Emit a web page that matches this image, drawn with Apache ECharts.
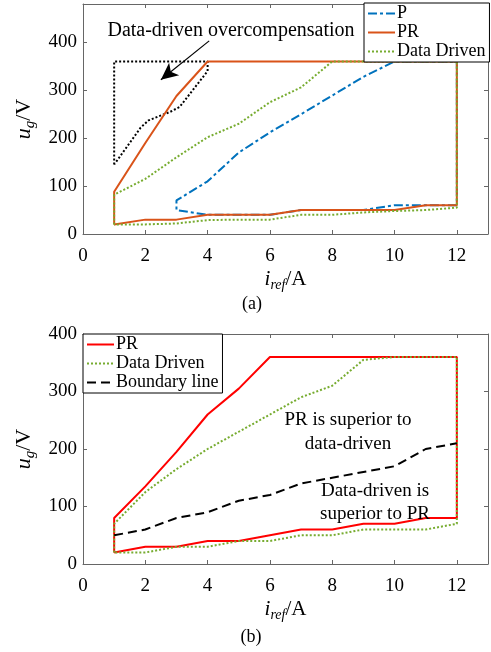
<!DOCTYPE html>
<html>
<head>
<meta charset="utf-8">
<script src="https://cdn.jsdelivr.net/npm/echarts@6/dist/echarts.min.js"></script>
<style>
  html, body { margin: 0; padding: 0; background: #fff; }
  #main { width: 491px; height: 652px; }
</style>
</head>
<body>
<div id="main"></div>
<script>
// ---- (a) data ----
var pA_x   = [12, 11, 10, 9, 8, 7, 6, 5, 4, 3, 3, 4, 5, 6, 7, 8, 9, 10, 12, 12];
var pA_y   = [60, 60, 60, 50, 50, 50, 40, 40, 40, 50, 70, 110, 170, 212, 250, 289, 328, 360, 360, 60];
var prA_x  = [1, 1, 2, 3, 4, 12, 12, 11, 10, 9, 8, 7, 6, 5, 4, 3, 2, 1];
var prA_y  = [20, 88, 190, 288, 360, 360, 60, 60, 50, 50, 50, 50, 40, 40, 40, 30, 30, 20];
var ddA_x  = [1, 1, 2, 3, 4, 5, 6, 7, 8, 12, 12, 11, 10, 9, 8, 7, 6, 5, 4, 3, 2, 1];
var ddA_y  = [20, 82, 115, 160, 202, 230, 275, 306, 360, 360, 55, 50, 48, 45, 40, 40, 30, 30, 29, 22, 20, 20];
var ocA_x  = [1, 1, 4, 4, 3.1, 2.8, 2.1, 1.85, 1];
var ocA_y  = [145, 360, 360, 340, 265, 255, 237, 222, 145];

// ---- (b) data ----
var prB_x  = [1, 1, 2, 3, 4, 5, 6, 12, 12, 11, 10, 9, 8, 7, 6, 5, 4, 3, 2, 1];
var prB_y  = [20, 80, 135, 195, 260, 305, 360, 360, 80, 80, 70, 70, 60, 60, 50, 40, 40, 30, 30, 20];
var ddB_x  = [1, 1, 2, 3, 4, 5, 6, 7, 8, 9, 10, 12, 12, 11, 10, 9, 8, 7, 6, 5, 4, 3, 2, 1];
var ddB_y  = [20, 70, 125, 165, 200, 230, 260, 290, 310, 355, 360, 360, 70, 60, 60, 60, 50, 50, 40, 40, 30, 30, 20, 20];
var bdB_x  = [1, 2, 3, 4, 5, 6, 7, 8, 9, 10, 11, 12];
var bdB_y  = [50, 60, 80, 90, 110, 120, 140, 150, 160, 170, 200, 210];

function zip(xs, ys) {
    var out = [];
    for (var i = 0; i < xs.length; i++) out.push([xs[i], ys[i]]);
    return out;
}

var FONT = '"Liberation Serif", "DejaVu Serif", serif';
var AXIS_C = '#666';

// axes (main + box side)
function xAx(grid, pos, main) {
    return {
        type: 'value', gridIndex: grid, position: pos, min: 0, max: 13, interval: 2,
        axisLine: { show: true, onZero: false, lineStyle: { color: AXIS_C, width: 1 } },
        axisTick: { show: true, inside: true, length: 4, lineStyle: { color: AXIS_C } },
        axisLabel: { show: main, showMaxLabel: false, color: '#000', fontFamily: FONT, fontSize: 19, margin: 13 },
        splitLine: { show: false },
        name: main ? '{i|i}{s|ref}{a|/A}' : '',
        nameLocation: 'middle', nameGap: 32,
        nameTextStyle: {
            rich: {
                i: { fontFamily: FONT, fontStyle: 'italic', fontSize: 21, color: '#000', lineHeight: 26, verticalAlign: 'middle' },
                s: { fontFamily: FONT, fontStyle: 'italic', fontSize: 14, color: '#000', lineHeight: 26, verticalAlign: 'bottom' },
                a: { fontFamily: FONT, fontSize: 21, color: '#000', lineHeight: 26, verticalAlign: 'middle' }
            }
        }
    };
}
function yAx(grid, pos, main, max) {
    return {
        type: 'value', gridIndex: grid, position: pos, min: 0, max: max, interval: 100,
        axisLine: { show: true, onZero: false, lineStyle: { color: AXIS_C, width: 1 } },
        axisTick: { show: true, inside: true, length: 4, lineStyle: { color: AXIS_C } },
        axisLabel: { show: main, showMaxLabel: max === 400, color: '#000', fontFamily: FONT, fontSize: 19, margin: 6 },
        splitLine: { show: false },
        name: main ? '{u|u}{g|g}{v|/V}' : '',
        nameLocation: 'middle', nameGap: 39, nameRotate: 90,
        nameTextStyle: {
            rich: {
                u: { fontFamily: FONT, fontStyle: 'italic', fontSize: 22, color: '#000', lineHeight: 26, verticalAlign: 'middle' },
                g: { fontFamily: FONT, fontStyle: 'italic', fontSize: 15, color: '#000', lineHeight: 26, verticalAlign: 'bottom' },
                v: { fontFamily: FONT, fontSize: 22, color: '#000', lineHeight: 26, verticalAlign: 'middle' }
            }
        }
    };
}

function lineS(name, data, color, type, xi, yi, width) {
    return {
        name: name, type: 'line', xAxisIndex: xi, yAxisIndex: yi,
        data: data, symbol: 'none', animation: false,
        lineStyle: { color: color, width: width || 2, type: type },
        itemStyle: { color: color }
    };
}

function legendBox(names, left, top, fmt) {
    return {
        data: names,
        orient: 'vertical', left: left, top: top,
        padding: [1, 4, 1, 3], itemGap: 0, itemWidth: 27, itemHeight: 12,
        backgroundColor: '#fff', borderColor: '#000', borderWidth: 1, borderRadius: 0,
        itemStyle: { opacity: 0 },
        formatter: fmt,
        textStyle: { fontFamily: FONT, fontSize: 18, lineHeight: 19, color: '#000', padding: [0, 0, 0, -3] }
    };
}

function txt(s, x, y, size) {
    return { type: 'text', x: x, y: y, z: 10,
        style: { text: s, font: size + 'px ' + FONT, fill: '#000', textAlign: 'center', textVerticalAlign: 'middle' } };
}

var chart = echarts.init(document.getElementById('main'), null, { renderer: 'canvas' });
var option = {
    backgroundColor: '#fff',
    animation: false,
    grid: [
        { left: 83, right: 3, top: 4, height: 230 },
        { left: 83, right: 3, top: 334, height: 230 }
    ],
    xAxis: [xAx(0, 'bottom', true), xAx(0, 'top', false), xAx(1, 'bottom', true), xAx(1, 'top', false)],
    yAxis: [yAx(0, 'left', true, 480), yAx(0, 'right', false, 480), yAx(1, 'left', true, 400), yAx(1, 'right', false, 400)],
    legend: [
        legendBox(['P', 'PR', 'Data Driven'], 364, 3, function (n) { return n; }),
        legendBox(['PR-b', 'Data Driven-b', 'Boundary line'], 83, 334, function (n) { return n.replace('-b', ''); })
    ],
    graphic: [
        txt('Data-driven overcompensation', 231, 31, 20),
        txt('(a)', 252, 304, 18),
        txt('(b)', 251, 637, 18),
        txt('PR is superior to', 348, 420, 19),
        txt('data-driven', 348, 444, 19),
        txt('Data-driven is', 375, 491, 19),
        txt('superior to PR', 375, 514, 19)
    ],
    series: [
        lineS('overcomp', zip(ocA_x, ocA_y), '#000', [2, 2], 0, 0, 2),
        lineS('P', zip(pA_x, pA_y), '#0072BD', [9, 3, 3, 3], 0, 0, 2),
        lineS('PR', zip(prA_x, prA_y), '#D95319', 'solid', 0, 0, 2),
        lineS('Data Driven', zip(ddA_x, ddA_y), '#77AC30', [2, 2], 0, 0, 2),
        {
            name: 'arrow', type: 'line', xAxisIndex: 0, yAxisIndex: 0, data: [], symbol: 'none',
            markLine: {
                silent: true, animation: false, symbol: ['none', 'arrow'], symbolSize: [12, 17],
                label: { show: false },
                lineStyle: { color: '#000', width: 1.2, type: 'solid' },
                data: [[{ coord: [4.05, 403] }, { coord: [2.5, 322] }]]
            }
        },
        lineS('PR-b', zip(prB_x, prB_y), '#FF0000', 'solid', 2, 2, 2),
        lineS('Data Driven-b', zip(ddB_x, ddB_y), '#77AC30', [2, 2], 2, 2, 2),
        lineS('Boundary line', zip(bdB_x, bdB_y), '#000', [9, 5], 2, 2, 2)
    ]
};
chart.setOption(option);
</script>
</body>
</html>
